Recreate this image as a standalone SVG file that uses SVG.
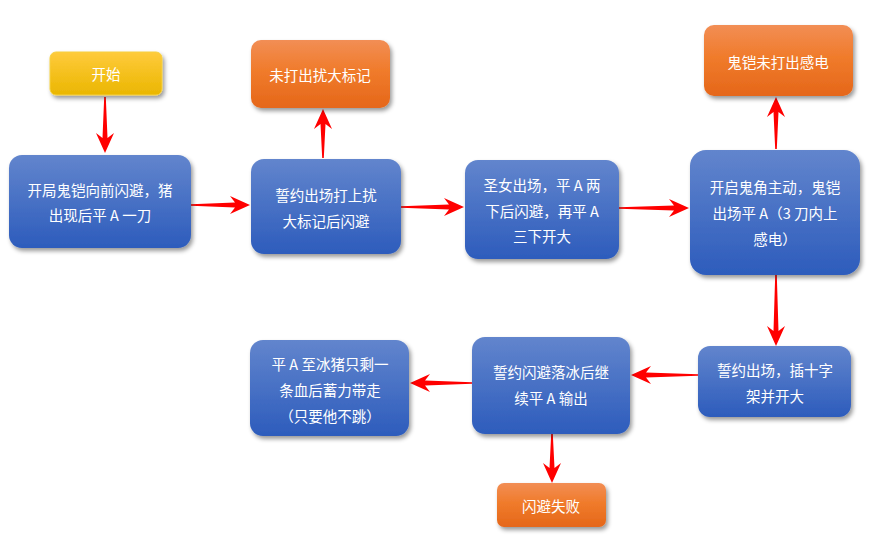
<svg xmlns="http://www.w3.org/2000/svg" width="872" height="536" viewBox="0 0 872 536">
<defs>
<linearGradient id="gBlue" x1="0" y1="0" x2="0" y2="1"><stop offset="0" stop-color="#6285cd"/><stop offset="1" stop-color="#2d5cbc"/></linearGradient>
<linearGradient id="gOrange" x1="0" y1="0" x2="0" y2="1"><stop offset="0" stop-color="#f28e55"/><stop offset="0.45" stop-color="#f07b2b"/><stop offset="1" stop-color="#e5671a"/></linearGradient>
<linearGradient id="gYellow" x1="0" y1="0" x2="0" y2="1"><stop offset="0" stop-color="#ffcb3c"/><stop offset="1" stop-color="#eab600"/></linearGradient>
<filter id="sh" x="-10%" y="-10%" width="130%" height="140%"><feDropShadow dx="2" dy="3" stdDeviation="2.2" flood-color="#000" flood-opacity="0.4"/></filter>
</defs>
<style>
.blue{fill:url(#gBlue);filter:url(#sh)}
.orange{fill:url(#gOrange);filter:url(#sh)}
.yellow{fill:url(#gYellow);stroke:#f5d040;stroke-width:1;filter:url(#sh)}
text{font-family:"Noto Sans CJK SC","Microsoft YaHei",sans-serif;font-size:14.5px;fill:#fff;text-anchor:middle;dominant-baseline:central}
.arr{fill:#f00}
</style>
<rect width="872" height="536" fill="#fff"/>
<g id="connectors">
<path class="arr" d="M104.2 97 L102.5 138 L96 133 L105 153 L114 133 L107.5 138 L105.8 97Z"/>
<path class="arr" d="M191 204.2 L235 202.5 L230 196 L250 205 L230 214 L235 207.5 L191 205.8Z"/>
<path class="arr" d="M322.2 158 L320.5 124 L314 129 L323 109 L332 129 L325.5 124 L323.8 158Z"/>
<path class="arr" d="M401 206.2 L449 204.5 L444 198 L464 207 L444 216 L449 209.5 L401 207.8Z"/>
<path class="arr" d="M619 207.2 L674 205.5 L669 199 L689 208 L669 217 L674 210.5 L619 208.8Z"/>
<path class="arr" d="M775.2 149 L773.5 112 L767 117 L776 97 L785 117 L778.5 112 L776.8 149Z"/>
<path class="arr" d="M775.2 275 L773.5 331 L767 326 L776 346 L785 326 L778.5 331 L776.8 275Z"/>
<path class="arr" d="M698 374.2 L646 372.5 L651 366 L631 375 L651 384 L646 377.5 L698 375.8Z"/>
<path class="arr" d="M472 382.2 L425 380.5 L430 374 L410 383 L430 392 L425 385.5 L472 383.8Z"/>
<path class="arr" d="M551.2 434 L549.5 468 L543 463 L552 483 L561 463 L554.5 468 L552.8 434Z"/>
</g>
<g id="start"><rect class="yellow" x="50" y="52" width="112" height="43" rx="6"/><text x="106" y="73">开始</text></g>
<g id="noMark"><rect class="orange" x="251" y="40" width="139" height="68" rx="10"/><text x="320" y="74">未打出扰大标记</text></g>
<g id="noShock"><rect class="orange" x="704" y="25" width="149" height="71" rx="10"/><text x="778" y="61">鬼铠未打出感电</text></g>
<g id="n1"><rect class="blue" x="9" y="155" width="182" height="93" rx="13"/><text x="100" y="189">开局鬼铠向前闪避，猪</text><text x="100" y="214">出现后平 A 一刀</text></g>
<g id="n2"><rect class="blue" x="251" y="159" width="150" height="95" rx="13"/><text x="326" y="194">誓约出场打上扰</text><text x="326" y="220">大标记后闪避</text></g>
<g id="n3"><rect class="blue" x="465" y="160" width="154" height="99" rx="13"/><text x="542" y="184">圣女出场，平 A 两</text><text x="542" y="210">下后闪避，再平 A</text><text x="542" y="235">三下开大</text></g>
<g id="n4"><rect class="blue" x="690" y="150" width="170" height="125" rx="16"/><text x="775" y="186">开启鬼角主动，鬼铠</text><text x="775" y="212">出场平 A（3 刀内上</text><text x="775" y="238">感电）</text></g>
<g id="n5"><rect class="blue" x="698" y="346" width="153" height="71" rx="12"/><text x="775" y="369">誓约出场，插十字</text><text x="775" y="395">架并开大</text></g>
<g id="n6"><rect class="blue" x="472" y="337" width="158" height="97" rx="13"/><text x="551" y="371">誓约闪避落冰后继</text><text x="551" y="397">续平 A 输出</text></g>
<g id="n7"><rect class="blue" x="250" y="340" width="159" height="96" rx="13"/><text x="330" y="363">平 A 至冰猪只剩一</text><text x="330" y="389">条血后蓄力带走</text><text x="330" y="415">（只要他不跳）</text></g>
<g id="fail"><rect class="orange" x="497" y="483" width="109" height="44" rx="7"/><text x="551" y="505">闪避失败</text></g>
</svg>
